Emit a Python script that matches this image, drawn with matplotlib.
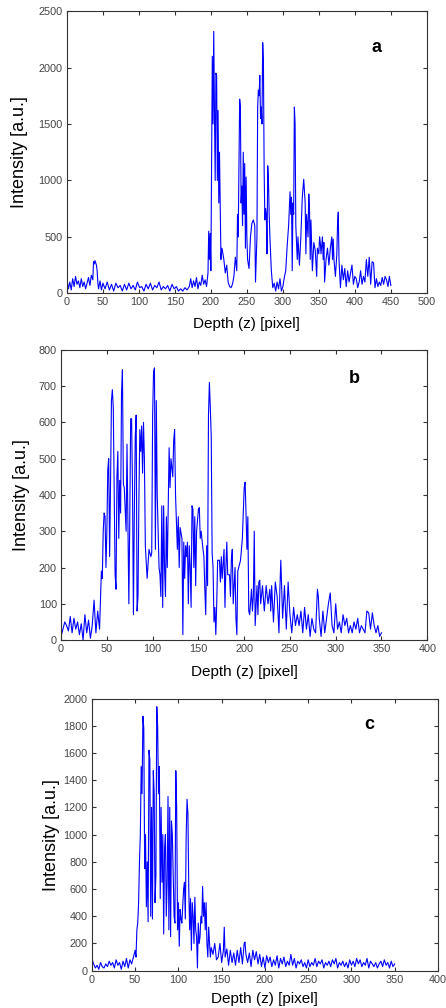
import numpy as np
import matplotlib
matplotlib.use("Agg")
import matplotlib.pyplot as plt

plt.rcParams['font.family'] = ['Liberation Sans', 'DejaVu Sans']

# panel a
a_depth = [0, 2, 4, 6, 8, 10, 12, 14, 16, 18,
           20, 22, 24, 26, 28, 30, 32, 34, 36, 37,
           38, 39, 40, 41, 42, 43, 44, 46, 48, 50,
           53, 56, 59, 62, 65, 68, 71, 74, 77, 80,
           83, 86, 89, 92, 95, 98, 101, 104, 107, 110,
           113, 116, 119, 122, 125, 128, 131, 134, 137, 140,
           143, 146, 149, 152, 155, 158, 161, 164, 167, 170,
           172, 174, 176, 178, 180, 182, 184, 186, 188, 190,
           192, 194, 196, 197, 198, 199, 200, 201, 202, 203,
           204, 205, 206, 207, 208, 209, 210, 211, 212, 213,
           214, 215, 216, 218, 220, 222, 224, 226, 228, 230,
           232, 234, 236, 237, 238, 239, 240, 241, 242, 243,
           244, 245, 246, 247, 248, 249, 250, 251, 253, 255,
           257, 259, 261, 262, 264, 265, 266, 267, 268, 269,
           270, 271, 272, 273, 274, 275, 276, 277, 278, 279,
           280, 281, 282, 284, 286, 288, 290, 292, 294, 296,
           298, 300, 302, 304, 306, 308, 310, 311, 312, 313,
           314, 315, 316, 317, 318, 319, 320, 321, 323, 325,
           327, 329, 331, 332, 333, 335, 336, 337, 338, 339,
           341, 343, 345, 347, 348, 350, 351, 352, 353, 355,
           356, 357, 358, 360, 362, 364, 366, 368, 369, 370,
           371, 373, 375, 376, 377, 378, 380, 382, 384, 386,
           388, 390, 392, 394, 396, 398, 400, 402, 404, 406,
           408, 410, 412, 414, 416, 418, 420, 422, 424, 426,
           428, 430, 432, 434, 436, 438, 440, 442, 444, 446,
           448, 450]
a_int = [120, 40, 100, 30, 130, 60, 150, 80, 110, 50,
         130, 60, 100, 40, 90, 140, 70, 160, 120, 280,
         260, 290, 270, 250, 200, 90, 40, 110, 30, 90,
         40, 100, 30, 80, 20, 90, 50, 70, 20, 80,
         30, 90, 40, 70, 30, 100, 50, 60, 20, 80,
         40, 90, 30, 70, 50, 100, 30, 60, 40, 70,
         20, 80, 40, 60, 20, 40, 20, 50, 30, 60,
         130, 50, 110, 60, 140, 40, 100, 70, 160, 80,
         120, 60, 180, 550, 300, 530, 200, 1100, 2100, 1500,
         2320, 1600, 1000, 1950, 1930, 1000, 1620, 800, 1250, 750,
         300, 400, 380, 300, 180, 250, 100, 60, 50, 80,
         150, 320, 200, 700, 500, 1100, 1720, 1650, 800, 950,
         600, 1250, 700, 1150, 400, 1030, 500, 300, 220, 500,
         620, 650, 600, 100, 500, 1650, 1800, 1750, 1930, 1550,
         1650, 1500, 2220, 2050, 1100, 650, 750, 700, 350, 1130,
         1000, 700, 500, 200, 50, 90, 20, 100, 40, 130,
         20, 60, 140, 200, 420, 600, 900, 700, 850, 200,
         800, 700, 1650, 1500, 600, 450, 300, 500, 250, 500,
         850, 1010, 800, 350, 700, 500, 880, 750, 300, 650,
         200, 450, 380, 150, 400, 350, 500, 450, 350, 500,
         300, 450, 100, 300, 400, 250, 400, 500, 300, 480,
         300, 150, 350, 620, 720, 300, 50, 250, 120, 220,
         60, 200, 100, 180, 250, 80, 150, 130, 50, 100,
         200, 80, 150, 100, 300, 150, 320, 80, 280, 270,
         50, 130, 60, 100, 70, 140, 80, 150, 120, 60,
         150, 70]

# panel b
b_depth = [0, 2, 4, 6, 8, 10, 12, 14, 16, 18,
           20, 22, 24, 26, 28, 30, 32, 34, 36, 38,
           40, 42, 44, 45, 46, 47, 48, 49, 50, 51,
           52, 53, 54, 55, 56, 57, 58, 59, 60, 61,
           62, 63, 64, 65, 66, 67, 68, 69, 70, 71,
           72, 73, 74, 75, 76, 77, 78, 79, 80, 81,
           82, 83, 84, 85, 86, 87, 88, 89, 90, 91,
           92, 94, 96, 98, 99, 100, 101, 102, 103, 104,
           105, 106, 107, 108, 109, 110, 111, 112, 113, 114,
           115, 116, 118, 119, 120, 122, 123, 124, 125, 127,
           128, 129, 130, 132, 133, 134, 135, 136, 137, 138,
           139, 140, 141, 142, 143, 144, 145, 146, 147, 148,
           150, 151, 152, 153, 155, 156, 157, 158, 159, 160,
           161, 162, 163, 164, 165, 166, 167, 168, 169, 170,
           171, 173, 174, 175, 176, 178, 179, 180, 181, 182,
           184, 185, 186, 187, 188, 190, 191, 192, 193, 194,
           196, 198, 200, 201, 202, 203, 204, 205, 206, 208,
           209, 210, 211, 212, 214, 215, 216, 217, 218, 220,
           222, 224, 226, 228, 229, 230, 232, 234, 236, 238,
           239, 240, 242, 244, 246, 248, 250, 252, 254, 256,
           258, 260, 262, 264, 266, 268, 270, 272, 274, 276,
           278, 280, 281, 282, 284, 286, 288, 290, 292, 294,
           296, 298, 300, 302, 304, 306, 308, 310, 312, 314,
           316, 318, 320, 322, 324, 326, 328, 330, 332, 334,
           336, 338, 340, 342, 344, 346, 348, 350]
b_int = [10, 30, 50, 40, 25, 65, 20, 60, 30, 50,
         15, 45, 0, 70, 20, 55, 5, 40, 110, 20,
         80, 30, 190, 170, 300, 350, 340, 200, 300, 470,
         500, 230, 430, 660, 690, 640, 400, 180, 140, 450,
         520, 280, 440, 350, 680, 745, 430, 420, 360, 300,
         540, 330, 100, 330, 610, 610, 420, 70, 350, 560,
         620, 80, 120, 390, 580, 520, 590, 460, 600, 500,
         260, 170, 250, 230, 240, 620, 740, 750, 250, 660,
         400, 300, 200, 180, 120, 370, 90, 370, 200, 120,
         340, 200, 530, 420, 500, 450, 550, 580, 400, 250,
         340, 200, 310, 280, 15, 270, 170, 260, 230, 270,
         100, 260, 200, 90, 370, 360, 200, 340, 150, 300,
         360, 365, 280, 300, 250, 230, 140, 70, 260, 150,
         620, 710, 640, 560, 240, 200, 50, 90, 15, 100,
         220, 220, 160, 230, 170, 250, 90, 200, 270, 180,
         180, 120, 220, 250, 100, 200, 60, 15, 190, 200,
         220, 280, 420, 435, 350, 250, 340, 80, 70, 140,
         80, 120, 300, 40, 150, 70, 160, 165, 100, 150,
         80, 150, 100, 140, 80, 150, 50, 160, 120, 20,
         140, 220, 60, 150, 30, 160, 70, 20, 90, 40,
         70, 40, 80, 20, 90, 30, 70, 10, 60, 30,
         20, 140, 120, 60, 10, 80, 20, 60, 100, 130,
         40, 20, 100, 30, 50, 20, 70, 40, 60, 20,
         40, 20, 50, 30, 60, 20, 40, 30, 20, 80,
         75, 30, 75, 40, 20, 40, 10, 20]

# panel c
c_depth = [0, 2, 4, 6, 8, 10, 12, 14, 16, 18,
           20, 22, 24, 26, 28, 30, 32, 34, 36, 38,
           40, 42, 44, 46, 48, 50, 51, 52, 53, 54,
           55, 56, 57, 58, 59, 60, 61, 62, 63, 64,
           65, 66, 67, 68, 69, 70, 71, 72, 73, 74,
           75, 76, 77, 78, 79, 80, 81, 82, 83, 84,
           85, 86, 87, 88, 89, 90, 91, 92, 93, 94,
           95, 96, 97, 98, 99, 100, 101, 102, 103, 104,
           106, 107, 108, 109, 110, 111, 112, 113, 114, 115,
           116, 117, 118, 119, 120, 121, 122, 123, 124, 125,
           126, 127, 128, 129, 130, 131, 132, 133, 134, 135,
           136, 137, 138, 140, 142, 144, 146, 148, 150, 152,
           153, 154, 156, 158, 160, 162, 164, 166, 168, 170,
           172, 174, 176, 177, 178, 180, 182, 184, 186, 188,
           190, 192, 194, 196, 198, 200, 202, 204, 206, 208,
           210, 212, 214, 216, 218, 220, 222, 224, 226, 228,
           230, 232, 234, 236, 238, 240, 242, 244, 246, 248,
           250, 252, 254, 256, 258, 260, 262, 264, 266, 268,
           270, 272, 274, 276, 278, 280, 282, 284, 286, 288,
           290, 292, 294, 296, 298, 300, 302, 304, 306, 308,
           310, 312, 314, 316, 318, 320, 322, 324, 326, 328,
           330, 332, 334, 336, 338, 340, 342, 344, 346, 348, 350]
c_int = [90, 50, 20, 40, 10, 60, 30, 20, 50, 30,
         70, 40, 60, 20, 80, 40, 60, 10, 70, 30,
         90, 20, 80, 50, 100, 150, 100, 300, 350, 500,
         800, 1000, 1500, 1300, 1870, 1780, 750, 1000, 470, 800,
         360, 1620, 1550, 400, 1200, 380, 1470, 1300, 500, 700,
         1940, 1800, 1300, 1500, 530, 1200, 650, 1000, 270, 900,
         1000, 400, 650, 1280, 300, 1200, 250, 1100, 1000, 700,
         400, 350, 1470, 1200, 300, 500, 180, 450, 380, 350,
         600, 650, 380, 1000, 1260, 1150, 600, 300, 530, 150,
         500, 400, 200, 540, 300, 250, 20, 350, 200, 250,
         400, 350, 620, 400, 500, 300, 500, 200, 100, 320,
         200, 100, 170, 120, 200, 80, 100, 200, 60, 150,
         320, 100, 160, 40, 150, 60, 130, 40, 150, 60,
         170, 50, 200, 210, 120, 60, 130, 30, 150, 80,
         140, 50, 120, 30, 100, 20, 110, 60, 100, 30,
         80, 40, 110, 20, 90, 50, 100, 30, 70, 40,
         120, 40, 90, 20, 70, 50, 80, 30, 60, 20,
         80, 30, 60, 40, 90, 30, 70, 50, 80, 20,
         60, 40, 70, 30, 80, 50, 90, 20, 60, 40,
         70, 30, 60, 20, 80, 40, 70, 30, 90, 50,
         80, 30, 60, 40, 90, 20, 70, 50, 30, 60,
         20, 50, 70, 30, 80, 40, 60, 20, 70, 30, 50]

panels = [
    # depth, intensity, label, xlim, ylim, ystep, rect, ylabel x, xlabel y, letter pos
    (a_depth, a_int, 'a', 500, 2500, 500, [0.150, 0.709, 0.807, 0.280], -0.108, -0.085, (0.86, 0.87)),
    (b_depth, b_int, 'b', 400, 800, 100, [0.137, 0.365, 0.821, 0.288], -0.085, -0.086, (0.80, 0.90)),
    (c_depth, c_int, 'c', 400, 2000, 200, [0.206, 0.037, 0.776, 0.270], -0.092, -0.077, (0.80, 0.905)),
]

fig = plt.figure(figsize=(4.46, 10.08), dpi=100)

for depth, inten, letter, xmax, ymax, ystep, rect, ylx, xly, lpos in panels:
    ax = fig.add_axes(rect)
    ax.plot(depth, inten, color='#0000ff', lw=0.8)
    ax.set_xlim(0, xmax)
    ax.set_ylim(0, ymax)
    ax.set_xticks(np.arange(0, xmax + 1, 50))
    ax.set_yticks(np.arange(0, ymax + 1, ystep))
    ax.tick_params(direction='in', top=True, right=True, length=3, width=0.8,
                   labelsize=7.8, colors='#333333', labelcolor='#444444', pad=3)
    for s in ax.spines.values():
        s.set_color('#333333')
        s.set_linewidth(0.8)
    ax.set_xlabel('Depth (z) [pixel]', fontsize=11)
    ax.set_ylabel('Intensity [a.u.]', fontsize=13)
    ax.yaxis.set_label_coords(ylx, 0.5)
    ax.xaxis.set_label_coords(0.5, xly)
    ax.text(lpos[0], lpos[1], letter, transform=ax.transAxes, fontsize=13,
            fontweight='bold', ha='center', va='center')

fig.savefig('out.png', dpi=100)
